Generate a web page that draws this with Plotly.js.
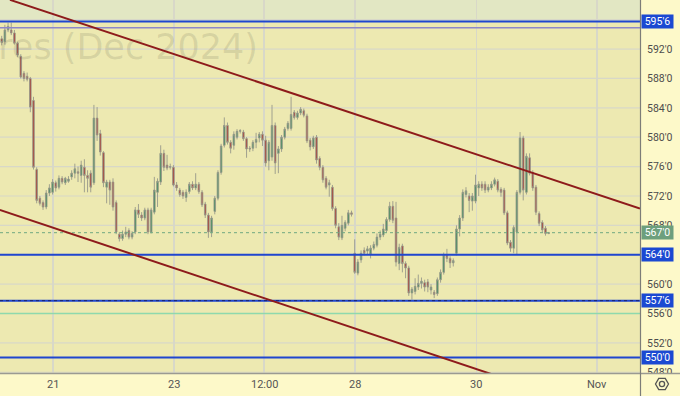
<!DOCTYPE html>
<html>
<head>
<meta charset="utf-8">
<script src="https://cdn.plot.ly/plotly-3.0.1.min.js"></script>
<style>
html,body{margin:0;padding:0;background:#fdf9c9;}
#chart{width:680px;height:396px;}
</style>
</head>
<body>
<div id="chart"></div>
<script>
// ---- data (hourly candles, Wheat Futures Dec 2024) ----
const open = [
593.4,593.0,594.6,594.6,594.2,592.8,591.0,588.7,588.3,588.0,
585.0,575.6,571.7,571.1,570.5,572.4,572.5,573.8,573.2,574.4,
573.8,574.0,574.6,575.1,575.3,574.8,575.9,574.8,575.1,573.8,
582.6,580.5,577.9,573.2,573.9,573.9,571.1,566.8,566.2,566.8,
567.3,566.4,567.1,570.1,569.4,569.0,570.1,567.1,569.8,572.5,
573.9,577.8,576.2,575.9,575.9,573.5,572.8,572.5,571.8,572.6,
573.6,573.1,573.6,572.5,570.9,569.4,567.1,569.9,571.7,575.2,
578.9,581.6,579.3,578.9,580.0,580.8,580.7,579.8,578.5,578.5,
579.3,579.9,580.4,579.6,576.8,577.3,581.6,577.8,578.4,580.0,
581.2,581.2,583.4,582.7,583.3,583.6,582.9,579.6,578.7,580.0,
577.1,575.9,574.4,573.5,573.2,570.3,567.8,566.3,567.6,568.3,
569.7,
564.2,561.5,563.3,564.6,564.5,564.1,564.9,565.3,566.4,566.7,
567.3,568.8,570.6,569.0,562.8,565.2,562.8,562.2,558.8,559.0,
559.6,560.1,560.2,560.3,559.2,558.9,
558.7,560.6,561.6,564.0,563.5,562.9,564.2,567.5,569.0,572.2,
572.0,571.3,571.3,573.1,573.6,573.6,572.8,573.1,573.6,574.0,
572.9,572.8,569.7,565.7,564.9,567.1,572.5,579.9,572.5,577.2,
575.2,573.2,569.6,568.4,567.6,566.9
];
const high = [
593.8,595.3,595.6,595.6,594.6,593.0,591.3,589.0,588.8,588.2,
585.5,575.9,572.0,571.4,572.8,573.6,574.3,574.1,574.8,574.7,
574.6,574.7,575.5,576.4,576.0,576.8,577.0,575.5,575.5,584.4,
584.1,581.0,578.1,574.2,574.2,574.4,571.4,567.1,567.3,567.8,
567.6,567.2,570.5,570.9,569.8,570.4,570.4,570.4,574.6,574.4,
578.9,578.3,577.6,576.4,576.2,573.9,573.1,572.8,572.9,573.9,
574.0,575.1,573.9,572.8,571.2,569.7,569.3,572.0,575.5,579.1,
582.7,582.0,579.6,580.8,581.1,581.1,581.0,580.0,578.8,579.6,
580.6,580.7,580.8,580.2,579.6,584.4,582.0,578.8,580.3,581.4,
582.2,585.5,583.7,583.6,584.1,583.9,583.2,579.9,580.2,580.3,
577.4,576.2,574.7,574.2,573.5,570.6,568.3,569.3,568.7,570.1,
570.0,
566.1,563.4,564.6,565.0,565.2,565.3,565.8,566.9,567.3,568.2,
569.1,571.2,571.3,571.2,565.5,565.5,563.1,562.5,559.6,560.8,
561.3,560.9,560.6,560.7,560.0,559.2,
560.9,562.0,564.3,564.8,563.8,563.5,568.0,569.4,572.9,573.2,
572.4,572.4,574.9,574.0,574.0,574.0,573.6,574.0,574.5,574.3,
573.2,573.1,570.0,566.0,568.0,572.8,580.7,580.2,577.8,577.8,
575.5,573.5,569.9,568.7,567.9,567.1
];
const low = [
592.5,592.6,594.3,593.9,592.6,590.9,588.0,587.6,587.6,583.4,
575.6,571.0,570.7,570.1,570.2,572.0,572.2,572.6,572.9,573.6,
573.5,573.8,574.2,574.4,573.9,573.8,572.5,572.5,572.5,573.5,
579.5,577.5,573.2,571.0,570.8,570.0,566.8,565.8,565.9,566.4,
566.1,566.1,566.8,569.0,568.6,568.7,566.8,566.9,569.5,570.5,
573.5,575.4,575.5,575.6,573.3,572.7,571.9,571.6,571.2,572.3,
572.8,572.8,572.3,570.5,569.0,566.3,566.4,569.5,571.4,574.9,
578.6,579.0,577.8,578.3,579.7,580.5,579.5,577.2,578.0,578.1,
578.5,579.3,578.8,576.0,575.5,576.8,575.0,575.1,578.0,579.7,
580.9,580.9,582.4,582.4,583.0,582.7,579.2,578.2,578.4,576.4,
575.5,573.8,572.9,571.9,570.0,567.6,566.0,566.0,567.2,568.0,
569.2,
561.4,561.2,562.9,563.9,564.0,563.5,564.6,565.0,566.0,566.4,
567.0,568.5,568.3,562.4,561.9,561.6,560.8,558.4,557.9,558.6,
559.2,559.4,559.0,558.9,558.6,558.1,
558.4,560.2,561.3,563.0,562.2,562.4,563.9,566.5,568.6,571.8,
569.8,570.0,571.0,572.0,572.7,572.4,572.5,572.8,573.3,572.5,
571.9,569.4,565.3,564.4,564.2,564.1,572.2,571.4,572.2,574.8,
572.7,569.4,567.9,567.0,566.6,566.8
];
const close = [
592.9,594.6,595.1,594.2,592.8,591.2,588.2,588.0,587.9,584.1,
575.9,571.4,571.0,570.5,572.4,573.1,573.9,573.1,574.4,573.9,
574.4,574.3,575.1,575.7,575.1,576.2,574.8,574.4,573.2,582.6,
580.3,578.0,573.8,573.9,572.8,570.5,567.1,566.2,566.8,567.1,
566.4,566.9,570.1,569.5,569.0,570.1,567.1,570.1,572.8,574.0,
577.8,575.9,575.8,576.0,573.5,573.1,572.2,572.0,572.5,573.6,
573.1,573.6,572.6,570.8,569.4,567.1,569.0,571.7,575.2,578.8,
581.6,579.3,578.5,580.4,580.8,580.9,579.8,578.4,578.4,579.3,
579.7,580.4,579.6,576.5,579.3,581.6,576.5,578.4,580.0,581.1,
581.9,583.1,582.7,583.3,583.8,583.0,579.5,578.7,579.9,576.9,
575.9,574.2,573.2,573.8,570.3,568.0,566.4,568.0,568.4,569.7,
569.5,
561.6,563.0,564.2,564.2,564.8,564.9,565.4,566.4,566.8,567.5,
568.8,570.6,568.7,563.0,565.0,562.8,562.2,558.8,559.3,559.7,
560.1,560.4,559.6,559.6,559.6,558.6,
560.6,561.6,564.0,563.5,562.9,563.2,567.5,569.0,572.5,572.7,
571.4,572.0,573.5,573.6,573.1,572.8,573.2,573.6,574.2,572.8,
572.5,569.7,565.6,564.9,567.7,572.5,579.9,572.8,577.4,575.1,
573.1,569.8,568.3,567.4,566.9,567.0
];
const barIndex = open.map((_, i) => i);

// x axis labels (bar index where each label sits)
const xTickLabels = ['21', '23', '12:00', '28', '30', 'Nov'];
const xTickBars   = [16.1, 54.2, 82.5, 111.1, 149.2, 187.2];

// y axis tick values (labels hidden under level boxes are left out)
const yTickValues = [548, 552, 556, 560, 568, 572, 576, 580, 584, 588, 592];
const yGridValues = [548, 552, 556, 560, 564, 568, 572, 576, 580, 584, 588, 592, 596];

// horizontal levels
const levelValues = [595.75, 564, 557.75, 550];
const levelLabels = ["595'6", "564'0", "557'6", "550'0"];
const secondTopLevel = 594.9;
const greenLevel = 556;
const lastPrice = 567;
const lastPriceLabel = "567'0";

// channel lines (bar index, price)
const upperChannelBars = [2.6, 200.7];
const upperChannelPrices = [598.7, 570.3];
const lowerChannelBars = [-0.6, 200.7];
const lowerChannelPrices = [570.1, 541.0];

const watermark = 'Wheat Futures (Dec 2024)';

// ---- layout helpers ----
const W = 680, H = 396, PW = 640, PH = 373;
const yRange = [547.9, 598.68];
const xRange = [-0.535, 200.72];
const px = v => v / PW;                 // pixel x -> paper
const py = v => (PH - v) / PH;          // pixel y -> paper

const yTickText = yTickValues.map(v => v + "'0");
const GRID = '#d8d8c8';

const BLUE = '#1f46cf';
const shapes = [];
// green zone above top level
shapes.push({type:'rect', xref:'paper', yref:'y', x0:0, x1:1, y0:levelValues[0], y1:yRange[1],
  fillcolor:'#e2e7c3', line:{width:0}, layer:'below'});
// horizontal grid
yGridValues.forEach(v => {
  shapes.push({type:'line', xref:'paper', yref:'y', x0:0, x1:1, y0:v, y1:v,
    line:{color:GRID, width:1.2}, layer:'below'});
});
// second top line (lavender)
shapes.push({type:'line', xref:'paper', yref:'y', x0:0, x1:1, y0:secondTopLevel, y1:secondTopLevel,
  line:{color:'#8d87c9', width:1.6}, layer:'above'});
// green line
shapes.push({type:'line', xref:'paper', yref:'y', x0:0, x1:1, y0:greenLevel, y1:greenLevel,
  line:{color:'#8fd9ad', width:1.6}, layer:'above'});
// last price dotted
shapes.push({type:'line', xref:'paper', yref:'y', x0:0, x1:1, y0:lastPrice, y1:lastPrice,
  line:{color:'#6fa882', width:1, dash:'dot'}, layer:'above'});
// blue levels
levelValues.forEach(v => {
  shapes.push({type:'line', xref:'paper', yref:'y', x0:0, x1:1, y0:v, y1:v,
    line:{color:BLUE, width:2}, layer:'above'});
});
shapes.push({type:'line', xref:'paper', yref:'y', x0:0, x1:1, y0:levelValues[2], y1:levelValues[2],
  line:{color:'#1a2470', width:1, dash:'dot'}, layer:'above'});
// channel lines
shapes.push({type:'line', xref:'x', yref:'y', x0:upperChannelBars[0], x1:upperChannelBars[1],
  y0:upperChannelPrices[0], y1:upperChannelPrices[1], line:{color:'#8e1b1b', width:2}, layer:'above'});
shapes.push({type:'line', xref:'x', yref:'y', x0:lowerChannelBars[0], x1:lowerChannelBars[1],
  y0:lowerChannelPrices[0], y1:lowerChannelPrices[1], line:{color:'#8e1b1b', width:2}, layer:'above'});
// bottom axis area cover
shapes.push({type:'rect', xref:'paper', yref:'paper', x0:px(-2), x1:px(W+2), y0:py(H+2), y1:py(PH),
  fillcolor:'#fdf9c9', line:{width:0}, layer:'above'});
// axis separators
shapes.push({type:'line', xref:'paper', yref:'paper', x0:px(0), x1:px(W), y0:py(PH+0.5), y1:py(PH+0.5),
  line:{color:'#9a9a92', width:1.6}, layer:'above'});
shapes.push({type:'line', xref:'paper', yref:'paper', x0:px(PW+0.5), x1:px(PW+0.5), y0:py(0), y1:py(H),
  line:{color:'#7d7d78', width:1.2}, layer:'above'});
// gear icon
(function(){
  const cx = 662, cy = 384, r = 6.5;
  let d = '';
  for (let k = 0; k < 6; k++) {
    const a = Math.PI / 3 * k;
    const x = cx + r * Math.cos(a), y = cy + r * Math.sin(a);
    d += (k === 0 ? 'M' : 'L') + px(x) + ',' + py(y);
  }
  d += 'Z';
  shapes.push({type:'path', xref:'paper', yref:'paper', path:d, line:{color:'#555', width:1.3}, layer:'above'});
  shapes.push({type:'circle', xref:'paper', yref:'paper', x0:px(cx-2.6), x1:px(cx+2.6), y0:py(cy+2.6), y1:py(cy-2.6),
    line:{color:'#555', width:1.3}, layer:'above'});
})();

const annotations = [];
levelValues.forEach((v, i) => {
  annotations.push({xref:'paper', yref:'y', x:px(641), y:v, xanchor:'left', yanchor:'middle',
    text:levelLabels[i], showarrow:false, bgcolor:'#1b49d2', width:31, height:13, borderpad:0,
    font:{family:'Roboto, Arial', size:10.5, color:'#ffffff'}});
});
annotations.push({xref:'paper', yref:'y', x:px(641), y:lastPrice, xanchor:'left', yanchor:'middle',
  text:lastPriceLabel, showarrow:false, bgcolor:'#6d9f7d', width:31, height:13, borderpad:0,
  font:{family:'Roboto, Arial', size:10.5, color:'#ffffff'}});
xTickLabels.forEach((t, i) => {
  annotations.push({xref:'x', yref:'paper', x:xTickBars[i], y:py(384), xanchor:'center', yanchor:'middle',
    text:t, showarrow:false, font:{family:'Roboto, Arial', size:11, color:'#555'}});
});

const traces = [
  {type:'scatter', mode:'text', x:[80.6], y:[591.9], text:[watermark], textposition:'middle left',
   textfont:{family:'DejaVu Sans', size:35, color:'rgba(95,95,80,0.16)'}, hoverinfo:'skip', showlegend:false},
  {type:'candlestick', x:barIndex, open:open, high:high, low:low, close:close,
   increasing:{line:{color:'#97998a', width:0.9}, fillcolor:'#3c8d5b'},
   decreasing:{line:{color:'#97998a', width:0.9}, fillcolor:'#ad352c'},
   whiskerwidth:0, hoverinfo:'skip', showlegend:false}
];

const layout = {
  width:W, height:H,
  margin:{l:0, r:W-PW, t:0, b:H-PH, pad:0},
  paper_bgcolor:'#fdf9c9', plot_bgcolor:'#ede9b1',
  showlegend:false,
  xaxis:{range:xRange, tickvals:xTickBars, ticktext:xTickLabels, showticklabels:false,
    showgrid:true, gridcolor:GRID, gridwidth:1.2, zeroline:false, fixedrange:true,
    rangeslider:{visible:false}, showline:false, ticks:''},
  yaxis:{range:yRange, side:'right', tickvals:yTickValues, ticktext:yTickText,
    showgrid:false, zeroline:false, ticks:'', ticklen:0,
    ticklabelstandoff:6, showline:false,
    tickfont:{family:'Roboto, Arial', size:10.5, color:'#4d4d4d'}},
  shapes:shapes,
  annotations:annotations
};

Plotly.newPlot('chart', traces, layout, {staticPlot:true, displayModeBar:false});
</script>
</body>
</html>
